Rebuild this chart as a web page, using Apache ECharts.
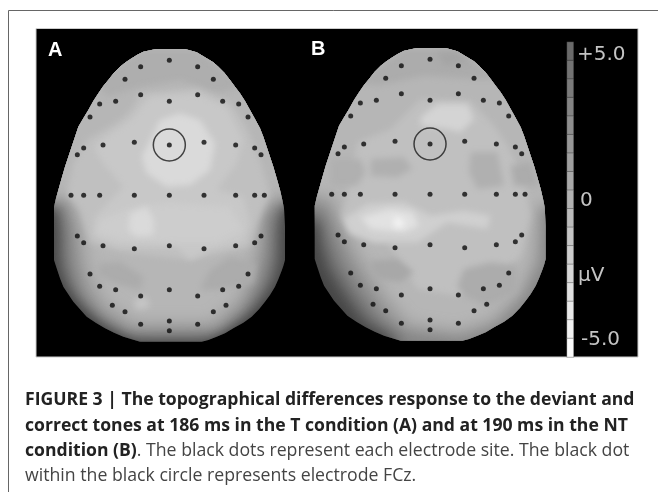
<!DOCTYPE html>
<html>
<head>
<meta charset="utf-8">
<style>html,body{margin:0;padding:0;background:#fff}#main{width:658px;height:492px;filter:blur(0.45px)}</style>
<script src="https://cdn.jsdelivr.net/npm/echarts@6/dist/echarts.min.js"></script>
</head>
<body>
<div id="main"></div>
<script>
// electrode sites, same montage on both heads
var elecX = [418,332,503,285,550,332,503,257,418,578,209,626,180,654,313,522,219,418,617,161,674,142,693,
    123,161,209,313,418,522,617,674,703,142,693,161,674,219,418,617,313,522,180,654,209,626,257,418,578,332,503,247,588,285,550,418,332,503,418];
var elecY = [91,110,110,148,148,194,194,214,214,214,222,222,261,261,337,337,345,345,345,354,354,374,374,
    496,496,496,496,496,496,496,496,496,618,618,638,638,647,647,647,656,656,732,732,769,769,779,779,779,798,798,826,826,845,845,873,883,883,902];
var fczSite = [418, 345];

// scalp outline
var headOutline = [[340,65],[378,57],[465,57],[500,67],[530,85],[550,97],[565,110],[583,128],[600,150],[615,170],[630,190],[645,213],[660,240],[675,267],[690,295],[700,320],[710,350],[720,380],[730,410],[740,445],[750,480],[757,510],[762,535],[765,590],[765,690],[760,708],[755,722],[745,748],[735,770],[720,795],[705,815],[687,838],[665,860],[640,878],[610,895],[585,910],[560,920],[535,930],[515,935],
    [330,935],[305,928],[280,920],[252,908],[225,895],[197,878],[170,860],[150,838],[130,815],[113,790],[100,770],[90,745],[80,715],[72,690],[72,530],[78,505],[85,480],[95,445],[105,410],[115,380],[125,350],[135,320],[145,290],[160,265],[175,240],[190,213],[205,190],[220,168],[235,150],[252,128],[270,110],[287,97],[305,85],[322,74]];

var levelsA = [70,110,140,165,182,174,192,200,205,218,218,172,172,198];
var regionsA = [
    [[-60,-60],[870,-60],[870,1040],[-60,1040]],
    [[-60,-60],[870,-60],[870,495],[758,535],[748,600],[748,690],[735,745],[700,800],[660,845],[600,885],[520,925],[330,925],[235,885],[175,840],[130,790],[100,740],[88,690],[88,600],[80,535],[-60,495]],
    [[-60,-60],[870,-60],[870,490],[745,520],[725,580],[722,680],[705,750],[670,810],[620,865],[540,915],[310,915],[225,870],[165,815],[130,760],[112,690],[108,590],[95,525],[-60,490]],
    [[-60,-60],[870,-60],[870,485],[740,505],[700,560],[695,670],[670,760],[630,830],[560,890],[300,895],[220,845],[170,780],[145,690],[135,580],[110,510],[-60,485]],
    [[-60,-60],[870,-60],[870,480],[735,495],[680,540],[670,660],[620,800],[540,870],[320,870],[230,810],[185,720],[165,600],[130,500],[-60,480]],
    [[200,150],[340,60],[500,60],[640,170],[560,190],[450,150],[330,170],[230,200]],
    [[330,190],[500,175],[600,215],[650,290],[690,390],[720,490],[690,560],[660,650],[480,690],[300,670],[180,640],[150,540],[110,490],[130,400],[170,330],[270,270],[310,230]],
    [[200,340],[300,270],[360,200],[500,190],[590,230],[640,330],[620,400],[560,480],[640,500],[660,580],[640,640],[540,660],[480,690],[440,650],[260,650],[190,620],[195,560],[280,470],[220,400],[195,360]],
    [[210,570],[310,530],[420,520],[600,530],[640,600],[560,640],[440,640],[280,630],[200,610]],
    [[390,270],[450,250],[510,270],[555,340],[540,420],[480,465],[410,470],[350,430],[335,380],[370,310]],
    [[300,550],[350,530],[372,570],[370,615],[320,620],[295,600]],
    [[205,700],[270,695],[340,740],[330,780],[250,760],[205,735]],
    [[540,720],[600,680],[680,700],[670,760],[560,780],[510,780]],
    [[310,810],[350,800],[360,830],[320,840]]
];
var levelsB = [70,105,135,160,182,172,165,192,176,176,176,172,208,226,245,212,168,172];
var regionsB = [
    [[-60,-60],[870,-60],[870,1040],[-60,1040]],
    [[-60,-60],[870,-60],[870,1040],[300,1040],[300,925],[215,875],[160,800],[110,720],[90,650],[85,590],[-60,500]],
    [[-60,-60],[870,-60],[870,1040],[330,1040],[330,920],[250,870],[190,790],[140,710],[110,630],[100,570],[-60,490]],
    [[-60,-60],[870,-60],[870,510],[752,530],[750,700],[700,800],[620,885],[520,925],[345,905],[290,860],[230,780],[175,690],[140,610],[110,530],[-60,480]],
    [[-60,-60],[870,-60],[870,500],[735,530],[725,690],[680,790],[600,870],[500,900],[360,880],[300,810],[250,740],[200,660],[160,580],[125,500],[-60,470]],
    [[200,160],[340,60],[500,60],[620,150],[540,150],[400,140],[260,170]],
    [[440,70],[500,70],[530,100],[460,110]],
    [[170,500],[200,340],[300,300],[390,210],[540,215],[610,290],[650,350],[700,450],[720,560],[690,680],[600,760],[500,800],[380,780],[290,640],[190,620],[150,560]],
    [[120,390],[210,390],[225,430],[200,470],[120,470]],
    [[240,390],[340,385],[365,420],[320,445],[240,440]],
    [[540,370],[620,370],[640,470],[560,480],[535,430]],
    [[660,410],[720,400],[745,470],[670,470]],
    [[160,570],[230,525],[340,520],[420,560],[520,545],[600,560],[590,600],[470,580],[380,640],[250,640],[175,610]],
    [[210,565],[300,540],[365,550],[385,590],[340,610],[240,600]],
    [[310,565],[335,570],[338,595],[312,595]],
    [[390,265],[440,225],[530,225],[550,270],[510,310],[470,300],[390,290]],
    [[240,695],[320,690],[370,730],[330,760],[260,750],[240,720]],
    [[520,720],[600,700],[680,710],[680,790],[590,830],[520,800],[500,770]]
];

// colour scale
var scaleValues = [5,4.4,3.8,3.2,2.5,1.9,1.3,0.6,0,-0.6,-1.3,-1.9,-2.5,-3.2,-3.8,-4.4,-5];
var captionBold1 = 'FIGURE 3 | The topographical differences response to the deviant and';
var captionBold2 = 'correct tones at 186 ms in the T condition (A) and at 190 ms in the NT';
var captionBold3 = 'condition (B)';
var captionRest3 = '. The black dots represent each electrode site. The black dot';
var captionLine4 = 'within the black circle represents electrode FCz.';

var myChart = echarts.init(document.getElementById('main'));

function toPoints(pts, api, shift) {
    var out = [];
    for (var i = 0; i < pts.length; i++) {
        var p = api.coord(pts[i]);
        out.push([p[0] - shift, p[1]]);
    }
    return out;
}

// only the blurred shadow lands on the page, the shape itself sits off canvas
var offCanvas = 3000;

function regionSeries(gridIdx, regions, levels) {
    var rows = [];
    for (var i = 0; i < regions.length; i++) {
        rows.push([i, levels[i]]);
    }
    return {
        type: 'custom',
        xAxisIndex: gridIdx,
        yAxisIndex: gridIdx,
        silent: true,
        clip: false,
        z: 2,
        encode: {x: 0, y: 1},
        data: rows,
        renderItem: function (params, api) {
            var idx = api.value(0);
            var g = api.value(1);
            var c = 'rgb(' + g + ',' + g + ',' + g + ')';
            return {
                type: 'group',
                clipPath: {type: 'polygon', shape: {points: toPoints(headOutline, api, 0)}},
                children: [{
                    type: 'polygon',
                    shape: {points: toPoints(regions[idx], api, offCanvas)},
                    style: {fill: c, shadowColor: c, shadowBlur: idx < 5 ? 14 : 6, shadowOffsetX: offCanvas}
                }]
            };
        }
    };
}

function siteData() {
    var rows = [];
    for (var i = 0; i < elecX.length; i++) {
        rows.push([elecX[i], elecY[i]]);
    }
    return rows;
}

function dotSeries(gridIdx) {
    return {
        type: 'scatter', xAxisIndex: gridIdx, yAxisIndex: gridIdx, silent: true, z: 5,
        symbolSize: 5, itemStyle: {color: '#0c0c0c'}, data: siteData()
    };
}

function ringSeries(gridIdx) {
    return {
        type: 'scatter', xAxisIndex: gridIdx, yAxisIndex: gridIdx, silent: true, z: 5,
        symbolSize: 32,
        itemStyle: {color: 'rgba(0,0,0,0)', borderColor: '#1a1a1a', borderWidth: 1.5},
        data: [fczSite]
    };
}

function hiddenAxis(idx, max, inverse) {
    return {type: 'value', gridIndex: idx, min: 0, max: max, inverse: inverse, show: false};
}

var scaleCats = [];
var scaleData = [];
for (var i = 0; i < scaleValues.length; i++) {
    scaleCats.push(i);
    scaleData.push([0, i, scaleValues[i]]);
}

var boldFont = 'bold 17.6px "Open Sans"';
var thinFont = '17.7px "Open Sans"';

var option = {
    backgroundColor: '#fff',
    animation: false,
    grid: [
        {left: 30, top: 30, width: 270, height: 330},
        {left: 290.7, top: 29, width: 270, height: 330},
        {left: 567, top: 42, width: 6.5, height: 315}
    ],
    xAxis: [
        hiddenAxis(0, 810, false),
        hiddenAxis(1, 810, false),
        {type: 'category', gridIndex: 2, data: [0], show: false}
    ],
    yAxis: [
        hiddenAxis(0, 990, true),
        hiddenAxis(1, 990, true),
        {type: 'category', gridIndex: 2, data: scaleCats, inverse: true, show: false}
    ],
    visualMap: {
        show: false, type: 'continuous', seriesIndex: 6, min: -5, max: 5,
        inRange: {color: ['#fafafa', '#6a6a6a']}
    },
    series: [
        regionSeries(0, regionsA, levelsA),
        dotSeries(0),
        ringSeries(0),
        regionSeries(1, regionsB, levelsB),
        dotSeries(1),
        ringSeries(1),
        {
            type: 'heatmap', xAxisIndex: 2, yAxisIndex: 2, silent: true, z: 3,
            itemStyle: {borderColor: 'rgba(0,0,0,0.45)', borderWidth: 0.6},
            data: scaleData
        }
    ],
    graphic: [
        {type: 'polyline', z: -10, shape: {points: [[658, 10.5], [8.5, 10.5], [8.5, 492]]}, style: {stroke: '#666', lineWidth: 1, fill: null}},
        {type: 'rect', z: -9, shape: {x: 36, y: 28.5, width: 602, height: 328.5}, style: {fill: '#000', stroke: '#ccc', lineWidth: 1}},
        {type: 'text', z: 20, left: 48, top: 40, style: {text: 'A', fill: '#fff', font: 'bold 20px "Liberation Sans"'}},
        {type: 'text', z: 20, left: 311, top: 39, style: {text: 'B', fill: '#fff', font: 'bold 20px "Liberation Sans"'}},
        {type: 'text', z: 20, left: 577, top: 45, style: {text: '+5.0', fill: '#c4c4c4', font: '20px "DejaVu Sans"'}},
        {type: 'text', z: 20, left: 580, top: 191, style: {text: '0', fill: '#c4c4c4', font: '20px "DejaVu Sans"'}},
        {type: 'text', z: 20, left: 578, top: 266, style: {text: 'µV', fill: '#c4c4c4', font: '20px "DejaVu Sans"'}},
        {type: 'text', z: 20, left: 581, top: 330, style: {text: '-5.0', fill: '#c4c4c4', font: '20px "DejaVu Sans"'}},
        {type: 'text', left: 25, top: 391, style: {text: captionBold1, fill: '#222', font: boldFont}},
        {type: 'text', left: 25, top: 417, style: {text: captionBold2, fill: '#222', font: boldFont}},
        {type: 'text', left: 25, top: 442, style: {
            text: '{b|' + captionBold3 + '}{r|' + captionRest3 + '}',
            rich: {b: {fill: '#222', font: boldFont}, r: {fill: '#444', font: thinFont}}
        }},
        {type: 'text', left: 25, top: 467, style: {text: captionLine4, fill: '#444', font: thinFont}}
    ]
};
myChart.setOption(option);
</script>
</body>
</html>
